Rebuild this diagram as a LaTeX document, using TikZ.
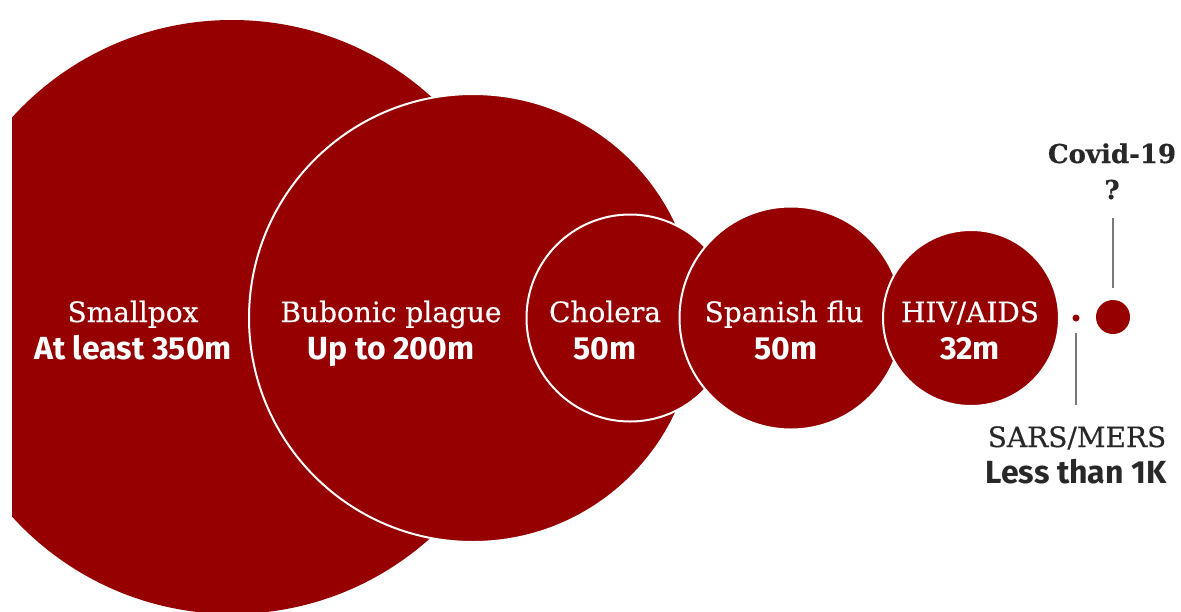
\documentclass[tikz,border=0pt]{standalone}
\usepackage{fontspec}
\newfontfamily\lblserif[FakeBold=0.5]{DejaVu Serif}
\newfontfamily\lblsans{Fira Sans}
\definecolor{plague}{RGB}{150,0,0}
\definecolor{ink}{RGB}{40,40,40}
\definecolor{leader}{RGB}{120,120,120}
\tikzset{
  blob/.style={circle, fill=plague, inner sep=0pt},
  ringed/.style={blob, draw=white, line width=2pt},
  namelbl/.style={anchor=base, text=white, inner sep=0pt, font=\lblserif\fontsize{28}{30}\selectfont},
  vallbl/.style={anchor=base, text=white, inner sep=0pt, font=\lblsans\bfseries\fontsize{32}{34}\selectfont},
  outname/.style={namelbl, text=ink},
  outval/.style={vallbl, text=ink},
  leaderline/.style={draw=leader, line width=1.5pt}
}
\begin{document}
\begin{tikzpicture}[x=1pt,y=-1pt]
\useasboundingbox (0,0) rectangle (1181,611);
\begin{scope}
\clip (12,0) rectangle (1181,611);
\node[blob, minimum size=594pt] (smallpox) at (232,317) {};
\end{scope}
\node[ringed, minimum size=448pt] (bubonic) at (473,318) {};
\node[ringed, minimum size=207pt] (cholera) at (630,318) {};
\node[ringed, minimum size=223pt] (spanish) at (791,318) {};
\node[ringed, minimum size=176pt] (hiv) at (971,318) {};
\node[blob, minimum size=7pt] (sars) at (1076,318) {};
\node[blob, minimum size=34pt] (covid) at (1113,317) {};

\node[namelbl] (smallpoxname) at (133,322) {Smallpox};
\node[vallbl] (smallpoxval) at (133,359) {At least 350m};
\node[namelbl] (bubonicname) at (391,322) {Bubonic plague};
\node[vallbl] (bubonicval) at (391,359) {Up to 200m};
\node[namelbl] (choleraname) at (605,322) {Cholera};
\node[vallbl] (choleraval) at (605,359) {50m};
\node[namelbl] (spanishname) at (784,322) {Spanish flu};
\node[vallbl] (spanishval) at (786,359) {50m};
\node[namelbl] (hivname) at (970,322) {HIV/AIDS};
\node[vallbl] (hivval) at (970,359) {32m};

\node[outname, font=\lblserif\bfseries\fontsize{26}{28}\selectfont] (covidname) at (1112,163) {Covid-19};
\node[outname, font=\lblserif\bfseries\fontsize{26}{28}\selectfont] (covidval) at (1112,199) {?};
\node[outname] (sarsname) at (1077,447) {SARS/MERS};
\node[outval] (sarsval) at (1076,483) {Less than 1K};

\coordinate (covidtop) at (1113,218);
\coordinate (covidbot) at (1113,288);
\coordinate (sarstop) at (1076,333);
\coordinate (sarsbot) at (1076,405);
\draw[leaderline] (covidtop) -- (covidbot);
\draw[leaderline] (sarstop) -- (sarsbot);
\end{tikzpicture}
\end{document}
